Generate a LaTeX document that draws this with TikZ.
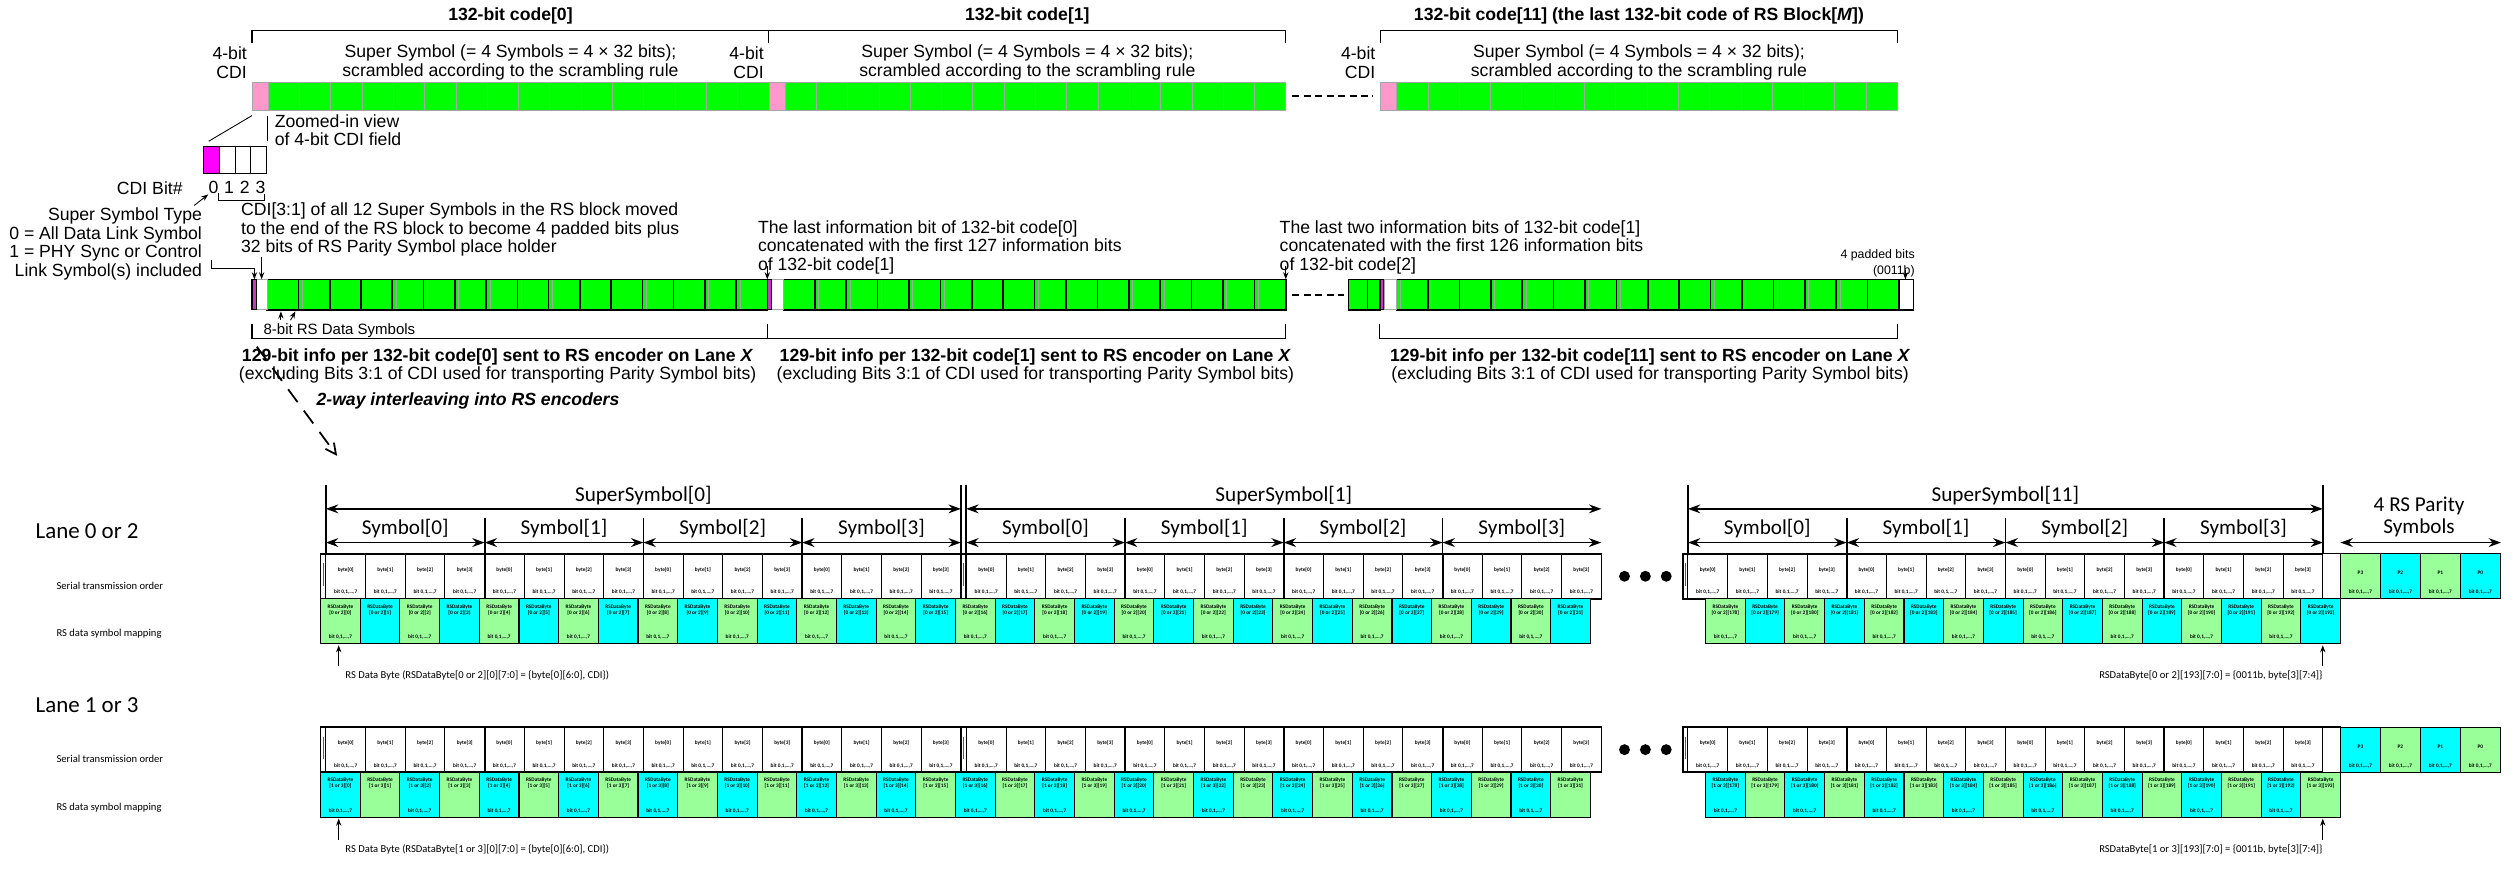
\documentclass[tikz,border=0pt]{standalone}
\usepackage{fontspec}
\setmainfont{Liberation Sans}
\newfontfamily\calfont{Carlito}
\usetikzlibrary{arrows.meta}
\definecolor{cdipink}{HTML}{FF99CC}
\definecolor{codegreen}{HTML}{00FF00}
\definecolor{cdimagenta}{HTML}{FF00FF}
\definecolor{bitpurple}{HTML}{CC33CC}
\definecolor{rsgreen}{HTML}{99FF99}
\definecolor{rscyan}{HTML}{00FFFF}
\definecolor{cellgray}{HTML}{A6A6A6}

\begin{document}
\begin{tikzpicture}[x = 0.032cm, y = -0.032cm,
    txt/.style = {font = \fontsize{10}{10.5}\selectfont, inner sep = 0pt},
    hdr/.style = {font = \bfseries\fontsize{10}{11}\selectfont, inner sep = 0pt},
    smalltxt/.style = {font = \fontsize{7}{8.6}\selectfont, inner sep = 0pt},
    cal/.style = {font = \calfont\fontsize{12}{12.7}\selectfont, inner sep = 0pt},
    calsmall/.style = {font = \calfont\fontsize{6}{7}\selectfont, inner sep = 0pt},
    celltxt/.style = {font = \calfont\bfseries\fontsize{3}{3.6}\selectfont, inner sep = 0pt, align = center},
    codecell/.style = {fill = codegreen, draw = cellgray, line width = 0.4pt},
    cdicell/.style = {fill = cdipink, draw = cellgray, line width = 0.4pt},
    rscell/.style = {fill = codegreen, draw = black, line width = 0.9pt},
    bytecell/.style = {fill = white, draw = black, line width = 0.5pt},
    mapcell/.style = {draw = black, line width = 0.6pt},
    cdibit/.style = {draw, rectangle, line width = 0.6pt, minimum width = 0.312cm, minimum height = 0.544cm, inner sep = 0pt},
    brk/.style = {draw = black, line width = 0.6pt},
    arr/.style = {-{Stealth[length = 4pt, width = 3pt]}, line width = 0.5pt},
    dbl/.style = {{Stealth[length = 7pt, width = 5pt]}-{Stealth[length = 7pt, width = 5pt]}, line width = 1pt},
]
        % Page
        \useasboundingbox (0, 0) rectangle (1568, 542);

        % 132-bit codes
        \foreach \xs in {157, 479, 860} {
            \draw [cdicell] (\xs, 51) rectangle ++(10, 18);
            \foreach \k in {0, ..., 15}
                \draw [codecell] ({\xs + 10 + \k*19.5}, 51) rectangle ++(19.5, 18);
        }
        \draw [line width = 1.2pt, dash pattern = on 4pt off 2.5pt] (805, 60) -- (855, 60);

        % Code brackets
        \draw [brk] (157, 27) -- (157, 19) -- (801, 19) -- (801, 27);
        \draw [brk] (479, 19) -- (479, 27);
        \draw [brk] (860, 27) -- (860, 19) -- (1182, 19) -- (1182, 27);
        \node [hdr] (code0) at (318, 10) {132-bit code[0]};
        \node [hdr] (code1) at (640, 10) {132-bit code[1]};
        \node [hdr] (code11) at (1021, 10) {132-bit code[11] (the last 132-bit code of RS Block[\textit{M}])};

        % Field labels
        \foreach \xc/\xs [count = \i] in {318/154, 640/476, 1021/857} {
            \node [txt, align = right, anchor = east] (cdi\i) at (\xs, 39) {4-bit\\CDI};
            \node [txt, align = center] (ss\i) at (\xc, 39) {Super Symbol (= 4 Symbols = 4 × 32 bits);\\scrambled according to the scrambling rule};
        }

        % Zoomed-in CDI field
        \draw [line width = 0.5pt] (157, 72) -- (130, 88);
        \draw [line width = 0.5pt] (166.5, 72) -- (166.5, 88);
        \node [txt, align = left, anchor = west] (zoomtxt) at (171, 81) {Zoomed-in view\\of 4-bit CDI field};
        \node [cdibit, fill = cdimagenta] (bit0) at (131.9, 99.5) {};
        \node [cdibit, fill = white] (bit1) at (141.6, 99.5) {};
        \node [cdibit, fill = white] (bit2) at (151.4, 99.5) {};
        \node [cdibit, fill = white] (bit3) at (161.1, 99.5) {};
        \foreach \k in {0, ..., 3}
            \node [txt] (d\k) at ({133 + \k*9.75}, 117) {\k};
        \node [txt, anchor = east] (bitlbl) at (114, 117) {CDI Bit\#};
        \draw [brk] (136, 120) -- (136, 125) -- (165, 125) -- (165, 121);
        \draw [arr] (121, 128) -- (d0.south west);

        % Notes above the RS data row
        \node [txt, align = right, anchor = east] (typelbl) at (126, 152) {Super Symbol Type\\0 = All Data Link Symbol\\1 = PHY Sync or Control\\Link Symbol(s) included};
        \node [txt, align = left, anchor = west] (movedtxt) at (150, 143) {CDI[3:1] of all 12 Super Symbols in the RS block moved\\to the end of the RS block to become 4 padded bits plus\\32 bits of RS Parity Symbol place holder};
        \node [txt, align = left, anchor = west] (last0) at (472, 154) {The last information bit of 132-bit code[0]\\concatenated with the first 127 information bits\\of 132-bit code[1]};
        \node [txt, align = left, anchor = west] (last1) at (797, 154) {The last two information bits of 132-bit code[1]\\concatenated with the first 126 information bits\\of 132-bit code[2]};
        \node [smalltxt, align = right, anchor = east] (padtxt) at (1193, 164) {4 padded bits\\(0011b)};

        % RS data row
        \foreach \xs/\w in {166.5/19.47, 488/19.56, 870/19.56} {
            \foreach \k in {0, ..., 15} {
                \draw [rscell] ({\xs + \k*\w}, 174) rectangle ++(\w, 19);
                \draw [cellgray, line width = 0.4pt] ({\xs + \k*\w + 2.4}, 174.5) -- ++(0, 18);
            }
        }
        \foreach \xs/\xe in {157/166.5, 478/488, 859.5/870} {
            \draw [fill = white, draw = cellgray, line width = 0.4pt] ({\xs + 2.6}, 174) rectangle (\xe, 193);
            \draw [fill = bitpurple, draw = black, line width = 0.6pt] (\xs, 174) rectangle ++(2.6, 19);
        }
        \draw [rscell] (840, 174) rectangle (852, 193);
        \draw [rscell] (852, 174) rectangle (859.5, 193);
        \draw [bytecell, line width = 0.9pt] (1183, 174) rectangle (1192, 193);
        \draw [line width = 1.2pt, dash pattern = on 4pt off 2.5pt] (805, 184) -- (837, 184);

        % Pointers into the RS data row
        \coordinate (tipa) at (158.5, 174);
        \coordinate (tipb) at (163, 174);
        \coordinate (tipc) at (478, 174);
        \coordinate (tipd) at (801, 174);
        \coordinate (tipe) at (1187, 174);
        \draw [arr] (132, 162) -- (132, 167) -- (158.5, 167) -- (tipa);
        \draw [arr] (163, 160) -- (tipb);
        \draw [arr] (478, 166) -- (tipc);
        \draw [arr] (801, 166) -- (tipd);
        \draw [arr] (1187, 168) -- (tipe);
        \draw [arr] (175, 199.5) -- (175, 194);
        \draw [arr] (181, 199.5) -- (184, 194);

        % Info brackets
        \draw [brk] (157, 202) -- (157, 211) -- (801, 211) -- (801, 202);
        \draw [brk] (478, 202) -- (478, 211);
        \draw [brk] (859.5, 202) -- (859.5, 211) -- (1182, 211) -- (1182, 202);
        \node [smalltxt, font = \fontsize{8.5}{10}\selectfont, anchor = west] (symtxt) at (164, 206) {8-bit RS Data Symbols};
        \foreach \xc/\c [count = \i] in {310/0, 645/1, 1028/11}
            \node [txt, align = center] (info\i) at (\xc, 228) {\textbf{129-bit info per 132-bit code[\c] sent to RS encoder on Lane \textit{X}}\\(excluding Bits 3:1 of CDI used for transporting Parity Symbol bits)};

        % Interleaving
        \coordinate (ilv) at (210, 284);
        \draw [line width = 1pt, dash pattern = on 9pt off 6pt, -{Straight Barb[length = 6pt, width = 6pt]}] (160, 216) -- (ilv);
        \node [hdr, font = \bfseries\itshape\fontsize{10}{11}\selectfont, anchor = west] (ilvtxt) at (197, 250) {2-way interleaving into RS encoders};

        % Lanes
        \foreach \ly/\ca/\cb/\lane in {345/rsgreen/rscyan/{0 or 2}, 453/rscyan/rsgreen/{1 or 3}} {
            \node [cal, font = \calfont\fontsize{13}{14}\selectfont, anchor = west] (lane\ly) at (22, \ly - 14) {Lane \lane};
            \node [calsmall, anchor = west] (sto\ly) at (35, \ly + 20) {Serial transmission order};
            \node [calsmall, anchor = west] (map\ly) at (35, \ly + 50) {RS data symbol mapping};
            % bytes in serial order
            \foreach \ss [count = \s] in {203, 602, 1051.5} {
                \draw [fill = white, draw = black, line width = 0.5pt] ({\ss - 3.3}, \ly) rectangle ++(3.3, 28);
                \draw [orange!60!black, line width = 0.6pt] ({\ss - 1.6}, \ly + 6) -- ++(0, 14);
                \foreach \k in {0, ..., 15} {
                    \pgfmathtruncatemacro{\bi}{mod(\k, 4)}
                    \draw [bytecell] ({\ss + \k*24.72}, \ly) rectangle ++(24.72, 28);
                    \node [celltxt] (by\ly-\s-\k) at ({\ss + (\k + 0.5)*24.72}, \ly + 10) {byte[\bi]};
                    \node [celltxt] (bb\ly-\s-\k) at ({\ss + (\k + 0.5)*24.72}, \ly + 24) {bit 0,1,\dots,7};
                }
                \foreach \j in {1, 2, 3}
                    \draw [line width = 1pt] ({\ss + \j*98.9}, \ly) -- ++(0, 28);
            }
            \draw [line width = 1pt] (199.7, \ly) rectangle (997.6, \ly + 28);
            \draw [line width = 1pt] (1048.2, \ly) rectangle (1458, \ly + 28);
            \draw [fill = white, draw = black, line width = 0.5pt] (1446.5, \ly) rectangle (1458, \ly + 28);
            % RS data symbols
            \foreach \k in {0, ..., 31} {
                \pgfmathtruncatemacro{\ev}{mod(\k, 2)}
                \ifnum\ev=0 \edef\cellcol{\ca}\else\edef\cellcol{\cb}\fi
                \draw [mapcell, fill = \cellcol] ({199.7 + \k*24.72}, \ly + 28) rectangle ++(24.72, 28);
                \node [celltxt] (rs\ly-\k) at ({199.7 + (\k + 0.5)*24.72}, \ly + 35) {RSDataByte\\{}[\lane][\k]};
                \ifnum\ev=0 \node [celltxt] (rb\ly-\k) at ({199.7 + (\k + 0.5)*24.72}, \ly + 52) {bit 0,1,\dots,7}; \fi
            }
            \foreach \k in {0, ..., 15} {
                \pgfmathtruncatemacro{\idx}{178 + \k}
                \pgfmathtruncatemacro{\ev}{mod(\k, 2)}
                \ifnum\ev=0 \edef\cellcol{\ca}\else\edef\cellcol{\cb}\fi
                \draw [mapcell, fill = \cellcol] ({1062.5 + \k*24.72}, \ly + 28) rectangle ++(24.72, 28);
                \node [celltxt] (rt\ly-\k) at ({1062.5 + (\k + 0.5)*24.72}, \ly + 35) {RSDataByte\\{}[\lane][\idx]};
                \ifnum\ev=0 \node [celltxt] (rc\ly-\k) at ({1062.5 + (\k + 0.5)*24.72}, \ly + 52) {bit 0,1,\dots,7}; \fi
            }
            % RS parity symbols
            \foreach \p [count = \i from 0] in {3, 2, 1, 0} {
                \pgfmathtruncatemacro{\ev}{mod(\i, 2)}
                \ifnum\ev=0 \edef\cellcol{\ca}\else\edef\cellcol{\cb}\fi
                \draw [mapcell, fill = \cellcol] ({1458 + \i*24.9}, \ly) rectangle ++(24.9, 28);
                \node [celltxt] (pp\ly-\p) at ({1458 + (\i + 0.5)*24.9}, \ly + 12) {P\p};
                \node [celltxt] (pb\ly-\p) at ({1458 + (\i + 0.5)*24.9}, \ly + 24) {bit 0,1,\dots,7};
            }
            % more super symbols
            \foreach \xd in {1012, 1025, 1038}
                \fill (\xd, \ly + 14) circle (3.4);
            % first and last RS data bytes
            \draw [arr] (211, \ly + 70) -- (211, \ly + 57);
            \node [calsmall, anchor = west] (first\ly) at (215, \ly + 76) {RS Data Byte (RSDataByte[\lane][0][7:0] = \{byte[0][6:0], CDI\})};
            \draw [arr] (1447, \ly + 70) -- (1447, \ly + 57);
            \node [calsmall, anchor = east] (last\ly) at (1447, \ly + 76) {RSDataByte[\lane][193][7:0] = \{0011b, byte[3][7:4]\}};
        }

        % Super symbol and symbol spans (lane 0 or 2)
        \draw [line width = 1pt] (203, 302) -- (203, 345);
        \draw [line width = 1pt] (598.6, 302) -- (598.6, 373);
        \draw [line width = 1pt] (601.9, 302) -- (601.9, 373);
        \draw [line width = 1pt] (1051.5, 302) -- (1051.5, 345);
        \draw [line width = 1pt] (1447, 302) -- (1447, 345);
        \foreach \ss/\se/\n in {203/598.6/0, 601.9/997.6/1, 1051.5/1447/11} {
            \draw [dbl] (\ss, 317) -- (\se, 317);
            \node [cal] (super\n) at ({(\ss + \se)/2}, 309) {SuperSymbol[\n]};
            \foreach \j in {0, ..., 3} {
                \draw [line width = 1pt] ({\ss + \j*98.9}, 323) -- ({\ss + \j*98.9}, 345);
                \draw [dbl] ({\ss + \j*98.9}, 338) -- ({\ss + (\j + 1)*98.9}, 338);
                \node [cal] (sym\n-\j) at ({\ss + (\j + 0.5)*98.9}, 329) {Symbol[\j]};
            }
        }
        \node [cal, align = center] (paritytxt) at (1507, 322) {4 RS Parity\\Symbols};
        \draw [dbl] (1458, 338) -- (1558, 338);

    \end{tikzpicture}
\end{document}
